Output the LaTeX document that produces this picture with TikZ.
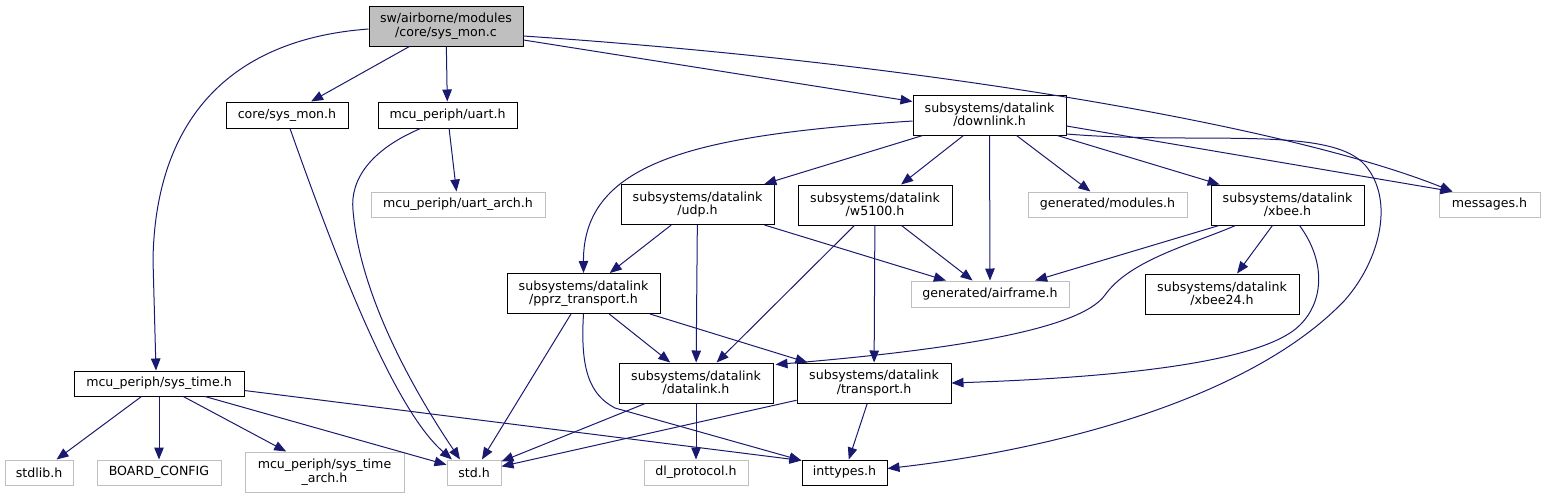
\documentclass[tikz,border=0pt]{standalone}
\usepackage{fontspec}
\setmainfont{DejaVu Sans}
\usepackage{tikz}
\usetikzlibrary{arrows.meta, calc}
\definecolor{incblue}{RGB}{25,25,112}
\definecolor{greyfill}{RGB}{191,191,191}
\definecolor{greyline}{RGB}{191,191,191}
\tikzset{
  docbox/.style={rectangle, draw=black, fill=white, align=center,
    minimum height=26pt, inner sep=1pt, line width=1pt,
    font=\fontsize{12.6}{13.4}\selectfont},
  rootbox/.style={docbox, fill=greyfill},
  undocbox/.style={docbox, draw=greyline},
  tall/.style={minimum height=40pt},
  arrow/.style={-{Triangle[length=12pt,width=9.5pt]}, line width=1pt, color=incblue}
}
\begin{document}
\begin{tikzpicture}[x=1pt, y=-1pt]
  \useasboundingbox (0,0) rectangle (1545,499);

  \node (sysmonc) [rootbox, tall, minimum width=154pt] at (446,26) {sw/airborne/modules\\/core/sys\_mon.c};

  \node (coresysmonh) [docbox, minimum width=122pt] at (287,115) {core/sys\_mon.h};
  \node (uarth) [docbox, minimum width=139pt] at (447.5,115) {mcu\_periph/uart.h};
  \node (downlink) [docbox, tall, minimum width=153pt] at (989.5,115) {subsystems/datalink\\/downlink.h};

  \node (uartarch) [undocbox, minimum width=174pt, minimum height=25pt] at (458,204.5) {mcu\_periph/uart\_arch.h};
  \node (udp) [docbox, tall, minimum width=153pt] at (697.5,204.5) {subsystems/datalink\\/udp.h};
  \node (w5100) [docbox, tall, minimum width=154pt] at (875,205) {subsystems/datalink\\/w5100.h};
  \node (modules) [undocbox, minimum width=159pt, minimum height=25pt] at (1107.5,204.5) {generated/modules.h};
  \node (xbeeh) [docbox, tall, minimum width=153pt] at (1287.5,205) {subsystems/datalink\\/xbee.h};
  \node (messages) [undocbox, minimum width=101pt, minimum height=25pt] at (1489.5,204.5) {messages.h};

  \node (pprz) [docbox, tall, minimum width=153pt] at (583.5,293.5) {subsystems/datalink\\/pprz\_transport.h};
  \node (airframe) [undocbox, minimum width=158pt] at (990,294) {generated/airframe.h};
  \node (xbee24) [docbox, tall, minimum width=154pt] at (1222,294) {subsystems/datalink\\/xbee24.h};

  \node (systime) [docbox, minimum width=170pt, minimum height=25pt] at (159,383.5) {mcu\_periph/sys\_time.h};
  \node (datalink) [docbox, tall, minimum width=154pt] at (696,383) {subsystems/datalink\\/datalink.h};
  \node (transport) [docbox, tall, minimum width=154pt] at (874,383) {subsystems/datalink\\/transport.h};

  \node (stdlib) [undocbox, minimum width=68pt, minimum height=25pt] at (39,472.5) {stdlib.h};
  \node (boardcfg) [undocbox, minimum width=124pt, minimum height=25pt] at (159,472.5) {BOARD\_CONFIG};
  \node (systimearch) [undocbox, tall, minimum width=159pt] at (324.5,472) {mcu\_periph/sys\_time\\\_arch.h};
  \node (std) [undocbox, minimum width=54pt, minimum height=25pt] at (474,472.5) {std.h};
  \node (dlprotocol) [undocbox, minimum width=104pt, minimum height=25pt] at (696,472.5) {dl\_protocol.h};
  \node (inttypes) [docbox, minimum width=85pt, minimum height=25pt] at (844.5,472.5) {inttypes.h};

  \draw [arrow] ($(sysmonc.west)+(0,3)$) .. controls (220,40) and (155,130) .. (153,260) -- ($(systime.north)+(-3,0)$);
  \draw [arrow] (sysmonc) -- (coresysmonh);
  \draw [arrow] (sysmonc) -- (uarth);
  \draw [arrow] ($(sysmonc.east)+(0,14)$) -- ($(downlink.north west)+(0,7)$);
  \draw [arrow] ($(sysmonc.east)+(0,10)$) .. controls (950,65) and (1300,130) .. ($(messages.north west)+(14,0)$);

  \draw [arrow] ($(coresysmonh.south)+(3,0)$) .. controls (340,270) and (395,410) .. ($(std.north)+(-22,0)$);
  \draw [arrow] ($(uarth.south)+(-27,0)$) .. controls (370,150) and (350,180) .. (353,210) .. controls (360,300) and (420,400) .. ($(std.north)+(-14,0)$);
  \draw [arrow] (uarth) -- (uartarch);

  \draw [arrow] ($(downlink.west)+(0,6)$) .. controls (700,135) and (583,160) .. (pprz.north);
  \draw [arrow] (downlink) -- (udp);
  \draw [arrow] (downlink) -- (w5100);
  \draw [arrow] (downlink) -- (airframe);
  \draw [arrow] (downlink) -- (modules);
  \draw [arrow] (downlink) -- (xbeeh);
  \draw [arrow] ($(downlink.east)+(0,11)$) -- ($(messages.north west)+(14,0)$);
  \draw [arrow] ($(downlink.east)+(0,19)$) .. controls (1200,145) and (1330,125) .. (1365,165) .. controls (1395,200) and (1380,260) .. (1345,300) .. controls (1250,400) and (1050,450) .. ($(inttypes.east)+(0,-4)$);

  \draw [arrow] (udp) -- (pprz);
  \draw [arrow] (udp) -- (datalink);
  \draw [arrow] (udp) -- (airframe);

  \draw [arrow] (w5100) -- (datalink);
  \draw [arrow] (w5100) -- (transport);
  \draw [arrow] (w5100) -- (airframe);

  \draw [arrow] (xbeeh) -- (airframe);
  \draw [arrow] (xbeeh) -- (xbee24);
  \draw [arrow] ($(xbeeh.south)+(-52,0)$) .. controls (1190,245) and (1130,260) .. (1105,295) .. controls (1080,330) and (950,350) .. ($(datalink.north east)+(2,2)$);
  \draw [arrow] ($(xbeeh.south)+(12,0)$) .. controls (1325,260) and (1325,300) .. (1300,325) .. controls (1260,365) and (1100,378) .. (transport.east);

  \draw [arrow] (pprz) -- (std);
  \draw [arrow] (pprz) -- (datalink);
  \draw [arrow] (pprz) -- (transport);
  \draw [arrow] (pprz.south) .. controls (580,370) and (590,395) .. (615,408) -- ($(inttypes.north west)+(0,1)$);

  \draw [arrow] (systime) -- (stdlib);
  \draw [arrow] (systime) -- (boardcfg);
  \draw [arrow] (systime) -- (systimearch);
  \draw [arrow] (systime) -- (std);
  \draw [arrow] ($(systime.east)+(0,7)$) -- ($(inttypes.north west)+(0,1)$);

  \draw [arrow] (datalink) -- (std);
  \draw [arrow] (datalink) -- (dlprotocol);
  \draw [arrow] (transport) -- (std);
  \draw [arrow] (transport) -- (inttypes);
\end{tikzpicture}
\end{document}
